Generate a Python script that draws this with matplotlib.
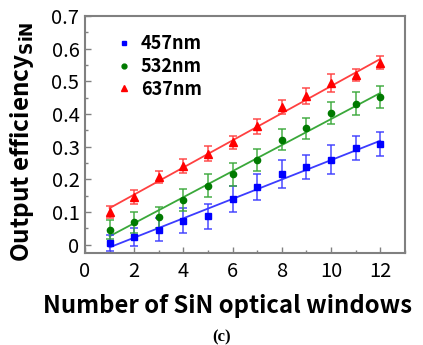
import matplotlib
matplotlib.use('Agg')
import matplotlib.pyplot as plt
from matplotlib.lines import Line2D
from matplotlib.ticker import MultipleLocator

plt.rcParams['font.family'] = ['Noto Sans CJK KR', 'DejaVu Sans']

windows = [1, 2, 3, 4, 5, 6, 7, 8, 9, 10, 11, 12]

eff_457 = [0.005, 0.023, 0.046, 0.074, 0.087, 0.140, 0.176, 0.217, 0.237, 0.260, 0.296, 0.308]
err_457 = [0.025, 0.028, 0.036, 0.038, 0.039, 0.039, 0.040, 0.042, 0.036, 0.044, 0.037, 0.037]

eff_532 = [0.046, 0.068, 0.084, 0.136, 0.180, 0.216, 0.260, 0.321, 0.356, 0.403, 0.431, 0.452]
err_532 = [0.030, 0.033, 0.032, 0.033, 0.035, 0.035, 0.033, 0.032, 0.033, 0.035, 0.035, 0.034]

eff_637 = [0.099, 0.146, 0.207, 0.240, 0.278, 0.313, 0.362, 0.421, 0.454, 0.495, 0.520, 0.556]
err_637 = [0.018, 0.020, 0.019, 0.021, 0.023, 0.021, 0.022, 0.021, 0.024, 0.027, 0.019, 0.020]

# linear fit end points as drawn in the figure
fit_x = [1, 12]
fit_457 = [-0.008, 0.318]
fit_532 = [0.026, 0.464]
fit_637 = [0.112, 0.568]

series = [
    ('457nm', eff_457, err_457, fit_457, '#0000ff', '#3c3cff', 's', 4.2),
    ('532nm', eff_532, err_532, fit_532, '#007a00', '#3aa83a', 'o', 4.5),
    ('637nm', eff_637, err_637, fit_637, '#ff0000', '#ff4040', '^', 5.2),
]

fig = plt.figure(figsize=(4.23, 3.45), dpi=100)
ax = fig.add_axes([0.201, 0.267, 0.756, 0.687])

handles = []
for label, y, err, fit, mcol, lcol, marker, ms in series:
    ax.plot(fit_x, fit, color=lcol, lw=1.3, zorder=2)
    ax.errorbar(windows, y, yerr=err, fmt='none', ecolor=lcol, elinewidth=1.2,
                capsize=3, capthick=1.2, alpha=0.85, zorder=3)
    ax.plot(windows, y, linestyle='none', marker=marker, color=mcol, ms=ms, zorder=4)
    handles.append(Line2D([], [], linestyle='none', marker=marker, color=mcol, ms=ms - 1, label=label))

ax.set_xlim(0, 13)
ax.set_ylim(-0.025, 0.7)
ax.xaxis.set_major_locator(MultipleLocator(2))
ax.xaxis.set_minor_locator(MultipleLocator(1))
ax.yaxis.set_minor_locator(MultipleLocator(0.05))
ax.set_yticks([0, 0.1, 0.2, 0.3, 0.4, 0.5, 0.6, 0.7])
ax.set_yticklabels(['0', '0.1', '0.2', '0.3', '0.4', '0.5', '0.6', '0.7'])

for sp in ax.spines.values():
    sp.set_color('#808080')
    sp.set_linewidth(1.5)
ax.tick_params(which='both', direction='in', color='#808080', labelsize=14.5, pad=4)
ax.tick_params(which='major', length=4, width=1)
ax.tick_params(which='minor', length=2.5, width=1)
ax.tick_params(axis='x', pad=6)

ax.set_xlabel('Number of SiN optical windows', fontsize=17.2, fontweight='bold')
ax.xaxis.set_label_coords(0.447, -0.172)
ax.set_ylabel(r'Output efficiency$_{\mathbf{SiN}}$', fontsize=17.5, fontweight='bold')
ax.yaxis.set_label_coords(-0.152, 0.468)

ax.legend(handles=handles, loc='upper left', bbox_to_anchor=(0.05, 0.99), frameon=False,
          handlelength=0.8, handletextpad=0.5, labelspacing=0.2,
          prop={'weight': 'bold', 'size': 13})

fig.text(0.523, 0.022, '(c)', ha='center', va='center', fontsize=12,
         fontweight='bold', family='Liberation Serif')

fig.savefig('out.png', dpi=100)
